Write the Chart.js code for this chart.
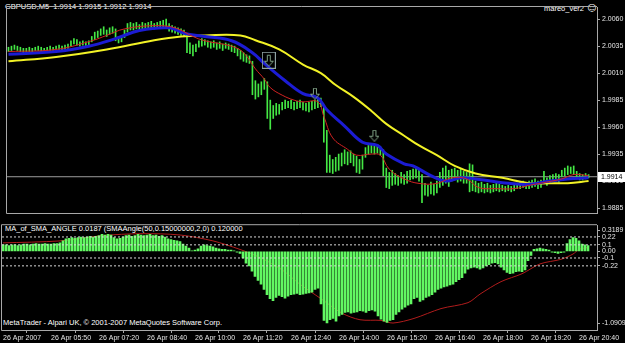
<!DOCTYPE html>
<html>
<head>
<meta charset="utf-8">
<script src="https://cdn.jsdelivr.net/npm/chart.js@4.4.1/dist/chart.umd.min.js"></script>
<style>
html, body { margin: 0; padding: 0; background: #000; }
#wrap { position: relative; width: 625px; height: 343px; overflow: hidden; font-family: 'Liberation Sans', Arial, sans-serif; color: #fff; }
.lbl { position: absolute; white-space: nowrap; font-size: 7.5px; line-height: 10px; }
canvas { position: absolute; left: 0; }
</style>
</head>
<body>
<div id="wrap">
  <div class="lbl" style="left:5px;top:2px">GBPUSD,M5&nbsp; 1.9914 1.9915 1.9912 1.9914</div>
  <div class="lbl" style="left:544px;top:4px">mareo_ver2</div>
  <div class="lbl" style="left:587px;top:3px;font-size:9px;font-family:'DejaVu Sans'">☺</div>
  <div class="lbl" style="left:5px;top:224px">MA_of_SMA_ANGLE 0.0187 (SMAAngle(50,0.15000000,2,0) 0.120000</div>
  <div class="lbl" style="left:3px;top:318px">MetaTrader - Alpari UK, © 2001-2007 MetaQuotes Software Corp.</div>
  <canvas id="main" style="top:0" width="625" height="220"></canvas>
  <canvas id="ind" style="top:219px" width="625" height="124"></canvas>
</div>
<script>
// GBPUSD M5 bars, 26 Apr 2007
const highs = [
  2.0034, 2.0035, 2.0036, 2.0035, 2.0034, 2.0033, 2.0033, 2.0034, 2.0033, 2.0034,
  2.0035, 2.0034, 2.0033, 2.0034, 2.0035, 2.0034, 2.0035, 2.0036, 2.0035, 2.0036,
  2.0037, 2.0040, 2.0042, 2.0041, 2.0039, 2.0040, 2.0039, 2.0040, 2.0044, 2.0048,
  2.0049, 2.0051, 2.0053, 2.0050, 2.0052, 2.0053, 2.0051, 2.0044, 2.0043, 2.0050,
  2.0056, 2.0057, 2.0056, 2.0057, 2.0055, 2.0057, 2.0056, 2.0057, 2.0058, 2.0056,
  2.0057, 2.0058, 2.0059, 2.0060, 2.0056, 2.0054, 2.0053, 2.0052, 2.0051, 2.0050,
  2.0045, 2.0038, 2.0036, 2.0037, 2.0040, 2.0042, 2.0041, 2.0040, 2.0039, 2.0040,
  2.0038, 2.0039, 2.0037, 2.0038, 2.0037, 2.0036, 2.0035, 2.0033, 2.0031, 2.0029,
  2.0027, 2.0026, 2.0021, 2.0003, 2.0000, 2.0002, 2.0005, 2.0002, 1.9985, 1.9980,
  1.9982, 1.9981, 1.9983, 1.9985, 1.9984, 1.9985, 1.9983, 1.9984, 1.9985, 1.9983,
  1.9982, 1.9983, 1.9984, 1.9985, 1.9986, 1.9987, 1.9980, 1.9957, 1.9934, 1.9930,
  1.9932, 1.9935, 1.9936, 1.9939, 1.9937, 1.9938, 1.9935, 1.9933, 1.9930, 1.9934,
  1.9941, 1.9943, 1.9944, 1.9943, 1.9944, 1.9942, 1.9939, 1.9922, 1.9918, 1.9920,
  1.9917, 1.9915, 1.9918, 1.9916, 1.9919, 1.9920, 1.9921, 1.9922, 1.9920, 1.9916,
  1.9908, 1.9906, 1.9909, 1.9907, 1.9910, 1.9918, 1.9922, 1.9924, 1.9920, 1.9921,
  1.9922, 1.9920, 1.9921, 1.9919, 1.9918, 1.9926, 1.9925, 1.9910, 1.9908, 1.9909,
  1.9907, 1.9908, 1.9906, 1.9907, 1.9908, 1.9907, 1.9906, 1.9905, 1.9906, 1.9905,
  1.9906, 1.9908, 1.9909, 1.9910, 1.9908, 1.9910, 1.9911, 1.9912, 1.9910, 1.9911,
  1.9919, 1.9913, 1.9915, 1.9916, 1.9917, 1.9916, 1.9920, 1.9922, 1.9924, 1.9923,
  1.9924, 1.9919, 1.9917, 1.9916, 1.9917, 1.9916
];
const lows = [
  2.0030, 2.0031, 2.0032, 2.0031, 2.0030, 2.0029, 2.0030, 2.0030, 2.0029, 2.0031,
  2.0031, 2.0030, 2.0030, 2.0031, 2.0031, 2.0031, 2.0032, 2.0032, 2.0031, 2.0032,
  2.0033, 2.0035, 2.0037, 2.0036, 2.0035, 2.0036, 2.0035, 2.0036, 2.0039, 2.0041,
  2.0043, 2.0045, 2.0046, 2.0044, 2.0046, 2.0047, 2.0040, 2.0038, 2.0039, 2.0043,
  2.0048, 2.0050, 2.0050, 2.0051, 2.0049, 2.0050, 2.0051, 2.0052, 2.0052, 2.0051,
  2.0052, 2.0053, 2.0052, 2.0053, 2.0049, 2.0048, 2.0047, 2.0046, 2.0045, 2.0044,
  2.0029, 2.0028, 2.0026, 2.0030, 2.0034, 2.0035, 2.0036, 2.0034, 2.0033, 2.0034,
  2.0032, 2.0033, 2.0031, 2.0033, 2.0032, 2.0030, 2.0029, 2.0026, 2.0023, 2.0021,
  2.0020, 2.0019, 1.9990, 1.9986, 1.9988, 1.9990, 1.9995, 1.9968, 1.9958, 1.9968,
  1.9971, 1.9972, 1.9976, 1.9977, 1.9978, 1.9977, 1.9976, 1.9977, 1.9978, 1.9976,
  1.9975, 1.9974, 1.9976, 1.9977, 1.9978, 1.9979, 1.9946, 1.9918, 1.9918, 1.9917,
  1.9919, 1.9920, 1.9924, 1.9926, 1.9925, 1.9927, 1.9924, 1.9918, 1.9917, 1.9921,
  1.9932, 1.9935, 1.9936, 1.9935, 1.9936, 1.9934, 1.9915, 1.9904, 1.9903, 1.9906,
  1.9907, 1.9906, 1.9908, 1.9907, 1.9908, 1.9911, 1.9912, 1.9913, 1.9910, 1.9890,
  1.9897, 1.9896, 1.9898, 1.9897, 1.9899, 1.9904, 1.9906, 1.9908, 1.9905, 1.9910,
  1.9911, 1.9909, 1.9910, 1.9908, 1.9908, 1.9900, 1.9901, 1.9900, 1.9899, 1.9900,
  1.9899, 1.9900, 1.9899, 1.9900, 1.9901, 1.9900, 1.9901, 1.9900, 1.9901, 1.9900,
  1.9901, 1.9903, 1.9903, 1.9904, 1.9903, 1.9903, 1.9904, 1.9905, 1.9903, 1.9904,
  1.9908, 1.9906, 1.9909, 1.9910, 1.9910, 1.9909, 1.9914, 1.9915, 1.9916, 1.9917,
  1.9916, 1.9912, 1.9911, 1.9911, 1.9912, 1.9913
];

// moving averages, read at these bar numbers
const fastBars = [0, 16, 28, 33, 39, 49, 56, 62, 66, 75, 79, 83, 86, 88, 92, 96, 99, 104, 106, 109,
  114, 117, 122, 125, 128, 133, 138, 144, 149, 154, 158, 164, 170, 175, 180, 186, 190, 195];
const fastMa = [2.0030, 2.0032, 2.0040, 2.0045, 2.0051, 2.0054, 2.0052, 2.0044, 2.0040, 2.0035,
  2.0029, 2.0014, 2.00045, 1.99966, 1.99896, 1.9985, 1.99834, 1.99834, 1.9970, 1.9950,
  1.99394, 1.9934, 1.9935, 1.9934, 1.9921, 1.9912, 1.99078, 1.99078, 1.9913, 1.9912,
  1.9904, 1.9903, 1.9903, 1.9906, 1.99086, 1.9912, 1.9916, 1.9915];
const midBars = [0, 16, 27, 36, 44, 54, 59, 66, 75, 82, 86, 93, 99, 104, 107, 113, 119, 124, 127, 133,
  136, 142, 147, 152, 157, 162, 168, 175, 182, 188, 195];
const midMa = [2.00275, 2.0030, 2.0035, 2.0042, 2.00495, 2.0052, 2.0047, 2.0044, 2.0040, 2.0029,
  2.0019, 2.0003, 1.9991, 1.9987, 1.9976, 1.9961, 1.9946, 1.9943, 1.9935, 1.9926,
  1.9924, 1.9915, 1.9910, 1.9913, 1.9912, 1.9910, 1.9908, 1.9907, 1.9910, 1.9912, 1.9913];
const slowBars = [0, 16, 33, 49, 58, 66, 78, 83, 91, 99, 105, 110, 116, 122, 127, 133, 138, 144, 150, 157,
  166, 175, 182, 188, 195];
const slowMa = [2.0021, 2.0025, 2.0032, 2.00405, 2.0044, 2.0045, 2.0045, 2.00405, 2.0032, 2.0018,
  2.0010, 1.9999, 1.9988, 1.9975, 1.9963, 1.9952, 1.9943, 1.9934, 1.9924, 1.9917,
  1.9913, 1.9908, 1.9908, 1.9908, 1.9910];

const arrowBars = [87.5, 103, 123];
const arrowPrices = [2.0022, 1.9991, 1.9952];
const bidPrice = 1.9914;
const priceTicks = [2.0060, 2.0035, 2.0010, 1.9985, 1.9960, 1.9935, 1.9910, 1.9885];

// MA_of_SMA_ANGLE window
const angleHist = [
  0.10, 0.10, 0.09, 0.10, 0.10, 0.09, 0.10, 0.11, 0.11, 0.10,
  0.11, 0.12, 0.11, 0.11, 0.12, 0.11, 0.11, 0.12, 0.12, 0.13,
  0.16, 0.19, 0.20, 0.21, 0.20, 0.21, 0.22, 0.21, 0.22, 0.23,
  0.22, 0.23, 0.24, 0.26, 0.25, 0.26, 0.25, 0.21, 0.19, 0.20,
  0.22, 0.24, 0.25, 0.23, 0.24, 0.26, 0.25, 0.24, 0.25, 0.26,
  0.24, 0.25, 0.23, 0.24, 0.22, 0.19, 0.18, 0.17, 0.16, 0.15,
  0.11, 0.08, 0.05, 0.01, 0.02, 0.04, 0.08, 0.10, 0.09, 0.08,
  0.07, 0.05, 0.04, 0.03, 0.03, 0.02, 0.02, 0.01, -0.01, -0.03,
  -0.10, -0.18, -0.22, -0.30, -0.38, -0.44, -0.50, -0.58, -0.66, -0.72,
  -0.75, -0.70, -0.67, -0.69, -0.71, -0.68, -0.66, -0.65, -0.64, -0.66,
  -0.65, -0.64, -0.63, -0.62, -0.58, -0.56, -0.80, -1.05, -1.09, -1.04,
  -1.02, -1.06, -0.98, -0.96, -0.93, -0.92, -0.94, -0.93, -0.92, -0.90,
  -0.91, -0.93, -0.90, -0.89, -0.91, -0.98, -1.03, -1.06, -1.08, -1.05,
  -1.04, -0.96, -0.92, -0.88, -0.85, -0.82, -0.80, -0.72, -0.70, -0.76,
  -0.74, -0.70, -0.68, -0.66, -0.62, -0.58, -0.56, -0.54, -0.53, -0.51,
  -0.50, -0.46, -0.43, -0.40, -0.33, -0.27, -0.25, -0.24, -0.25, -0.27,
  -0.25, -0.22, -0.20, -0.18, -0.17, -0.19, -0.24, -0.28, -0.32, -0.34,
  -0.33, -0.31, -0.30, -0.31, -0.28, -0.14, -0.06, 0.03, 0.04, 0.05,
  0.04, 0.03, 0.02, -0.01, -0.02, -0.03, -0.02, -0.01, 0.12, 0.18,
  0.21, 0.20, 0.16, 0.11, 0.10, 0.09
];
const signalBars = [0, 19, 33, 46, 59, 70, 79, 86, 93, 99, 106, 113, 119, 126, 130, 137, 146, 155, 159,
  166, 173, 179, 186, 190, 192, 195];
const signal = [0.13, 0.16, 0.24, 0.27, 0.25, 0.16, 0.03, -0.10, -0.28, -0.50, -0.72, -0.94, -1.04,
  -1.05, -1.09, -1.02, -0.87, -0.78, -0.65, -0.46, -0.34, -0.19, -0.12, -0.04, 0.03, 0.06];
const levels = [0.22, 0.1, -0.1, -0.22];
const indTicks = [0.3189, 0.22, 0.1, 0, -0.1, -0.22, -1.0909];
const indTickLabels = ['0.3189', '0.22', '0.1', '0.00', '-0.1', '-0.22', '-1.0909'];

const tickBars = [0, 16, 32, 48, 64, 80, 96, 112, 128, 144, 160, 176, 192];
const timeLabels = ['26 Apr 2007', '26 Apr 05:50', '26 Apr 07:20', '26 Apr 08:40', '26 Apr 10:00',
  '26 Apr 11:20', '26 Apr 12:40', '26 Apr 14:00', '26 Apr 15:20', '26 Apr 16:40',
  '26 Apr 18:00', '26 Apr 19:20', '26 Apr 20:40'];

const FONT = "'Liberation Sans', Arial, sans-serif";
const AXIS = '#a8a8a8';
Chart.defaults.font.family = FONT;
Chart.defaults.font.size = 7;
Chart.defaults.color = '#e6e6e6';

const pts = (xs, ys) => xs.map((x, k) => ({ x: x, y: ys[k] }));

function arrowIcon(boxed) {
  const c = document.createElement('canvas');
  const w = boxed ? 14 : 10, h = boxed ? 17 : 12;
  c.width = w; c.height = h;
  const g = c.getContext('2d');
  const ox = boxed ? 2 : 0, oy = boxed ? 3 : 0;
  g.strokeStyle = '#7fa085';
  g.lineWidth = 1;
  g.beginPath();
  g.moveTo(ox + 3.5, oy + 0.5);
  g.lineTo(ox + 6.5, oy + 0.5);
  g.lineTo(ox + 6.5, oy + 6.5);
  g.lineTo(ox + 9.5, oy + 6.5);
  g.lineTo(ox + 5, oy + 11.5);
  g.lineTo(ox + 0.5, oy + 6.5);
  g.lineTo(ox + 3.5, oy + 6.5);
  g.closePath();
  g.stroke();
  if (boxed) {
    g.strokeStyle = '#8fa3a3';
    g.strokeRect(0.5, 0.5, w - 1, h - 1);
  }
  return c;
}

// gray frame round each plot area
const framePlugin = {
  id: 'frame',
  afterDraw(chart) {
    const { ctx, chartArea: a } = chart;
    ctx.save();
    ctx.strokeStyle = AXIS;
    ctx.lineWidth = 1;
    ctx.beginPath();
    ctx.moveTo(a.right, a.top - 0.5);
    ctx.lineTo(a.left - 0.5, a.top - 0.5);
    ctx.lineTo(a.left - 0.5, a.bottom + 0.5);
    ctx.lineTo(a.right, a.bottom + 0.5);
    ctx.stroke();
    ctx.restore();
  }
};

const bidLabel = {
  id: 'bidLabel',
  afterDraw(chart) {
    const { ctx } = chart;
    const y = Math.round(chart.scales.y.getPixelForValue(bidPrice));
    const x = chart.chartArea.right + 1;
    ctx.save();
    ctx.fillStyle = '#fff';
    ctx.fillRect(x, y - 5, 27, 10);
    ctx.fillStyle = '#000';
    ctx.font = '7px ' + FONT;
    ctx.textBaseline = 'middle';
    ctx.fillText(bidPrice.toFixed(4), x + 3, y + 0.5);
    ctx.restore();
  }
};

const mainMin = -0.5, mainMax = -0.5 + 595 / 3;

new Chart(document.getElementById('main'), {
  type: 'bar',
  data: {
    datasets: [
      {
        type: 'scatter', data: pts(arrowBars, arrowPrices),
        pointStyle: [arrowIcon(true), arrowIcon(false), arrowIcon(false)],
        pointRadius: 6, order: 0
      },
      {
        type: 'line', data: pts(fastBars, fastMa), borderColor: '#d22222', borderWidth: 1,
        pointRadius: 0, tension: 0.4, order: 1
      },
      {
        type: 'line', data: pts(midBars, midMa), borderColor: '#1c1cd4', borderWidth: 3,
        pointRadius: 0, tension: 0.4, order: 2
      },
      {
        type: 'line', data: pts(slowBars, slowMa), borderColor: '#f2f226', borderWidth: 2,
        pointRadius: 0, tension: 0.4, order: 3
      },
      {
        type: 'bar', data: highs.map((h, i) => ({ x: i, y: [lows[i], h] })),
        backgroundColor: '#44e844', barThickness: 1, order: 4
      },
      {
        type: 'line', data: [{ x: mainMin, y: bidPrice }, { x: mainMax, y: bidPrice }],
        borderColor: '#9c9c9c', borderWidth: 1, pointRadius: 0, order: 5
      }
    ]
  },
  options: {
    responsive: false,
    animation: false,
    events: [],
    layout: { padding: { left: 2, top: 2, bottom: 1, right: 0 } },
    plugins: { legend: { display: false }, tooltip: { enabled: false } },
    scales: {
      x: { type: 'linear', min: mainMin, max: mainMax, offset: false, display: false },
      y: {
        position: 'right', min: 1.98804, max: 2.00713,
        afterFit: s => { s.width = 28; },
        afterBuildTicks: s => { s.ticks = priceTicks.map(v => ({ value: v })); },
        ticks: { autoSkip: false, padding: 2, callback: v => v.toFixed(4) },
        grid: { drawOnChartArea: false, color: AXIS, tickLength: 3 },
        border: { color: AXIS }
      }
    }
  },
  plugins: [framePlugin, bidLabel]
});

const indMin = -1 / 3, indMax = -1 / 3 + 595 / 3;

new Chart(document.getElementById('ind'), {
  type: 'bar',
  data: {
    datasets: [
      ...levels.map(v => ({
        type: 'line', data: [{ x: indMin, y: v }, { x: indMax, y: v }],
        borderColor: '#d8d8d8', borderWidth: 1, borderDash: [2, 2], pointRadius: 0, order: 0
      })),
      {
        type: 'bar', data: angleHist.map((v, i) => ({ x: i, y: v })),
        backgroundColor: '#62f862', barThickness: 2, order: 1
      },
      {
        type: 'line', data: pts(signalBars, signal), borderColor: '#b01c1c', borderWidth: 1,
        pointRadius: 0, tension: 0.3, order: 2
      }
    ]
  },
  options: {
    responsive: false,
    animation: false,
    events: [],
    layout: { padding: { left: 2, top: 3, bottom: 0, right: 0 } },
    plugins: { legend: { display: false }, tooltip: { enabled: false } },
    scales: {
      x: {
        type: 'linear', min: indMin, max: indMax, offset: false,
        afterFit: s => { s.height = 13; },
        afterBuildTicks: s => { s.ticks = tickBars.map(v => ({ value: v })); },
        ticks: { autoSkip: false, maxRotation: 0, align: 'start', padding: 1,
          callback: (v, k) => timeLabels[k] },
        grid: { drawOnChartArea: false, color: AXIS, tickLength: 3 },
        border: { color: AXIS }
      },
      y: {
        position: 'right', min: -1.196, max: 0.399,
        afterFit: s => { s.width = 28; },
        afterBuildTicks: s => { s.ticks = indTicks.map(v => ({ value: v })); },
        ticks: { autoSkip: false, padding: 2, callback: (v, k) => indTickLabels[k] },
        grid: { drawOnChartArea: false, color: AXIS, tickLength: 3 },
        border: { color: AXIS }
      }
    }
  },
  plugins: [framePlugin]
});
</script>
</body>
</html>
